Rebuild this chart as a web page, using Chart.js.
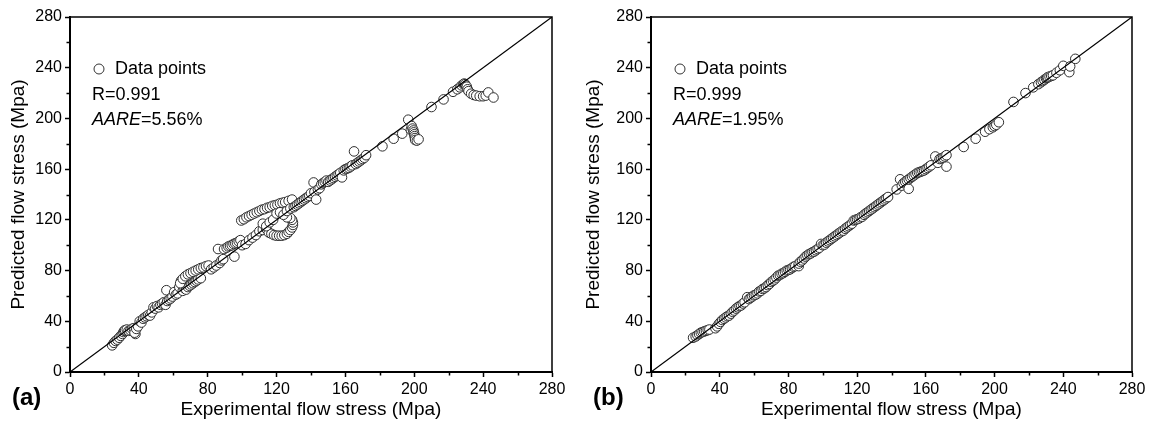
<!DOCTYPE html>
<html>
<head>
<meta charset="utf-8">
<script src="https://cdn.jsdelivr.net/npm/chart.js@4"></script>
<style>
  body { margin: 0; background: #fff; }
  .panel { position: absolute; top: 0; width: 575px; height: 421px; }
</style>
</head>
<body>
<div class="panel" style="left:0"><canvas id="chartA" width="575" height="421"></canvas></div>
<div class="panel" style="left:575px"><canvas id="chartB" width="575" height="421"></canvas></div>
<script>
// panel (a) - experimental vs predicted (Mpa)
var expA = [24.5,25.5,26.5,27.5,28.5,29.5,30.5,31,31.5,32,33,34,35,36,37,38,37.5,38.5,39.5,
  40.5,41.5,42.5,43.5,44.5,45.5,46.5,47.5,48.5,49.5,50.5,51.5,52.5,53.5,54.5,55.5,56,56.5,57.5,58.5,59.5,60.5,61.5,62.5,63.5,64.5,65.5,66.5,67.5,68.5,69.5,70.5,71.5,72.5,73.5,74.5,76,
  64,65.5,67,68.5,70,71.5,73,74.5,76,77.5,79,80.5,
  82,83.5,85,86,87,88,89,89.5,91,92,93,94,95,96,97,98,99,95.5,100,102,104,106,108,
  99.5,101,102.5,104,105.5,107,108.5,110,111.5,113,114.5,116,117.5,119,120.5,122,123.5,125,127,129,
  110,112,114,115.5,117,118.5,120,121.5,123,124.5,126,127,128,129,129.5,129.5,129,128,126,
  112,114,116,118,120,122,124,126,128,130,131,132,133,134,135,136,137,138,139,140,141.5,142,143,144,145,146,147,148,149,150,151,152,153,154,155,156,157,158,159,160,161,162,163,164,165,166,167,168,169,170,171,172,
  181.5,188,193,196.5,198,198.5,199,199.5,199.7,200,200.2,200.4,200.5,201.5,202.5,
  210,217,222.5,225,226.5,227.5,228.5,229,229.5,230,230.5,231,231.5,233,234.5,236,238,240,241.5,243,246];
var predA = [21,23,24.5,25.5,27,28.5,30,31.5,32.5,33,33.5,32.5,33,34,34.5,30,31,34,36,
  40,39,42,43,44,45,44.5,47,51,50,52,51,53,54,55,53,64.5,56,57,58,59.5,63,61,62,67,72,64,66,65,67,68,69,70,71,72,73,74,
  70,73.5,75.5,77,78,79,80,81,82,82.5,83.5,84,
  81,82.5,84,97,86,88,89,97,98,99,99.5,100,101,101.5,102,103,104,91,100,101,104,106,108,
  119.5,120.5,122,123,124,125,126,127,128,128.5,129.5,130,131,131.5,132,133,133.5,134,135,136,
  111,112,113,110,109,108,107.5,107.5,107.5,108,109,110.5,112,114,116,118,120,121.5,122,
  117,115,118,120,125,126,124,127,129,130,131,132,133,134,135,136,137,138,139,141,149.5,142,136,144,145,148,149,150,151,150,151,152,153,154,155,156,157,153.5,159,160,160.5,161,162,163,174,164,165,166,167,168,169,171,
  178,184,188,199,191,194,192,190.5,189,187.5,186,184.5,183,182.5,183.5,
  209,215,221,223,224.5,226,227,227.5,227,226,225,223,221.5,219.5,218.5,218,217.5,217.5,218,220.5,216.5];

// panel (b)
var expB = [24.5,26,27,28,29,30,31,32,33,34,37.5,38.5,39.5,40.5,41.5,42.5,43.5,44.5,45.5,46.5,47.5,48.5,49.5,50.5,51.5,52.5,53.5,54.5,56,57,58,59,60,61,62,63,64,65,66,67,68,69,70,71,72,73,74,75,76,77,78,79,80,81,82,83,84,86,86,87,88,89,90,91,92,93,94,95,96,97,98,99,100,101,102,103,104,105,106,107,108,109,110,111,112,113,114,115,116,117,118,119,120,121,122,123,124,125,126,127,128,129,130,131,132,133,134,135,136,137,138,
  143,145,146,147,148,149,150,150,151,152,153,154,155,156,157,158,159,160,161,162,163,165.5,167,168,169,170,171,172,172,
  182,189,194.5,197,199,200,201,202.5,
  211,218,222.5,225.5,227,228,229,230,230.5,231,232,233,234,236,238,240,243.5,244,247];
var predB = [27,28,29,30,31,31.5,32,32.5,33,33.5,34.5,36,38,39.5,41,42,43,44,44.5,46,47.5,48.5,50,51,52,52.5,54,55,59,57.5,58.5,59.5,60.5,61,62,63.5,64,65.5,66,67,68.5,69.5,71,72,73,74.5,76,76.5,77.5,78,79,80,80.5,81,82,83,83.5,83.5,85.5,87,88,89.5,91,92,93,93.5,94.5,95,96,97,98,101,100,100.5,102,103,104,105,106,107,108,109,110,111,111.5,113,114,115,116,117,119.5,120,120.5,121,122,122.5,124,125,126,127,128,129,130,131,132,133,134,135,136,137,138,
  144,152,147,149,150,151,144.5,152,153,154,155,156,157,157.5,158,158.5,159,160,161,162,163,170,165,168,168.5,169,170,171,162,
  177.5,184,189.5,191.5,193,194,195,197,
  213,220,224.5,227,228.5,229.5,230.5,231.5,232,232.5,233,233.5,234,236,238,241.5,236.5,241,247];

var statsA = { label: '(a)', r: '0.991', aare: '5.56%' };
var statsB = { label: '(b)', r: '0.999', aare: '1.95%' };

var FONT = '"Liberation Sans", Arial, sans-serif';

function toPoints(xs, ys){
  return xs.map(function(x, i){ return { x: x, y: ys[i] }; });
}

function majorOnly(c){
  return c.tick && c.tick.value % 40 === 0 ? '#000' : 'rgba(0,0,0,0)';
}

// frame, minor ticks, in-plot legend and panel label
var panelText = {
  id: 'panelText',
  afterDraw: function(chart, args, opts){
    var ctx = chart.ctx, a = chart.chartArea;
    var sx = chart.scales.x, sy = chart.scales.y;
    ctx.save();
    ctx.strokeStyle = '#000';
    ctx.lineWidth = 1.5;
    ctx.beginPath();
    ctx.moveTo(a.left, a.top);
    ctx.lineTo(a.right, a.top);
    ctx.lineTo(a.right, a.bottom);
    ctx.stroke();

    // minor ticks every 20
    ctx.lineWidth = 1.5;
    ctx.beginPath();
    for (var v = 20; v < 280; v += 40) {
      var px = Math.round(sx.getPixelForValue(v)) + 0.5;
      ctx.moveTo(px, a.bottom); ctx.lineTo(px, a.bottom + 3.5);
      var py = Math.round(sy.getPixelForValue(v)) + 0.5;
      ctx.moveTo(a.left, py); ctx.lineTo(a.left - 3.5, py);
    }
    ctx.stroke();

    ctx.fillStyle = '#fff';
    ctx.strokeStyle = '#333';
    ctx.lineWidth = 1;
    ctx.beginPath();
    ctx.arc(a.left + 29, 69, 5, 0, 2 * Math.PI);
    ctx.fill();
    ctx.stroke();

    ctx.fillStyle = '#000';
    ctx.textBaseline = 'middle';
    ctx.textAlign = 'left';
    ctx.font = '18px ' + FONT;
    ctx.fillText('Data points', a.left + 45, 69);
    ctx.fillText('R=' + opts.r, a.left + 22, 95);
    ctx.font = 'italic 18px ' + FONT;
    ctx.fillText('AARE', a.left + 22, 120);
    var w = ctx.measureText('AARE').width;
    ctx.font = '18px ' + FONT;
    ctx.fillText('=' + opts.aare, a.left + 22 + w, 120);

    ctx.font = 'bold 24px ' + FONT;
    ctx.fillText(opts.label, a.left - 58, 398);
    ctx.restore();
  }
};

function makeChart(id, xs, ys, stats, yWidth, padRight){
  var ctx = document.getElementById(id).getContext('2d');
  return new Chart(ctx, {
    type: 'scatter',
    data: {
      datasets: [{
        type: 'line',
        data: [{x: 0, y: 0}, {x: 280, y: 280}],
        borderColor: '#000',
        borderWidth: 1.2,
        pointRadius: 0,
        fill: false
      }, {
        data: toPoints(xs, ys),
        pointRadius: 4.8,
        pointBackgroundColor: '#fff',
        pointBorderColor: '#2e2e2e',
        pointBorderWidth: 1
      }]
    },
    options: {
      responsive: false,
      animation: false,
      devicePixelRatio: 1,
      layout: { padding: { top: 17, right: padRight, left: 0, bottom: 0 } },
      plugins: {
        legend: { display: false },
        tooltip: { enabled: false },
        panelText: stats
      },
      scales: {
        x: {
          type: 'linear', min: 0, max: 280,
          ticks: {
            stepSize: 20, autoSkip: false, maxRotation: 0, padding: 3, color: '#000',
            font: { family: FONT, size: 16 },
            callback: function(v){ return v % 40 === 0 ? v : ''; }
          },
          grid: { drawOnChartArea: false, tickLength: 5, tickColor: majorOnly, tickWidth: 1.5 },
          border: { color: '#000', width: 2 },
          title: { display: true, text: 'Experimental flow stress (Mpa)', color: '#000',
                   font: { family: FONT, size: 19 }, padding: { top: 0, bottom: 0 } },
          afterFit: function(s){ s.height = 49; }
        },
        y: {
          type: 'linear', min: 0, max: 280,
          ticks: {
            stepSize: 20, autoSkip: false, padding: 3, color: '#000',
            font: { family: FONT, size: 16 },
            callback: function(v){ return v % 40 === 0 ? v : ''; }
          },
          grid: { drawOnChartArea: false, tickLength: 5, tickColor: majorOnly, tickWidth: 1.5 },
          border: { color: '#000', width: 2 },
          title: { display: true, text: 'Predicted flow stress (Mpa)', color: '#000',
                   font: { family: FONT, size: 19 }, padding: { top: 7, bottom: 0 } },
          afterFit: function(s){ s.width = yWidth; }
        }
      }
    },
    plugins: [panelText]
  });
}

makeChart('chartA', expA, predA, statsA, 70, 23);
makeChart('chartB', expB, predB, statsB, 76, 18);
</script>
</body>
</html>
